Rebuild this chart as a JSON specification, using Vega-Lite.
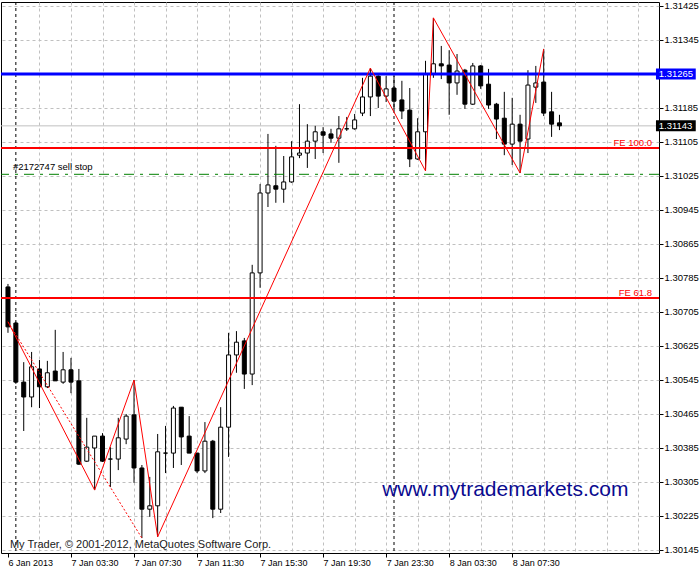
{
  "$schema": "https://vega.github.io/schema/vega-lite/v6.json",
  "width": 658,
  "height": 551,
  "autosize": {"type": "none"},
  "padding": {"left": 1, "top": 2, "right": 41, "bottom": 17},
  "background": "white",
  "config": {
    "view": {"stroke": "black", "strokeWidth": 1, "fill": "white"},
    "axis": {"labelFont": "Liberation Sans", "labelColor": "black", "tickColor": "black", "domain": false}
  },
  "resolve": {"axis": {"x": "independent", "y": "independent"}},
  "datasets": {
    "bars": [
      {"i":0,"o":1.30764,"h":1.30771,"l":1.30656,"c":1.30670},
      {"i":1,"o":1.30679,"h":1.30682,"l":1.30536,"c":1.30540},
      {"i":2,"o":1.30540,"h":1.30587,"l":1.30425,"c":1.30505},
      {"i":3,"o":1.30505,"h":1.30611,"l":1.30481,"c":1.30576},
      {"i":4,"o":1.30571,"h":1.30592,"l":1.30479,"c":1.30529},
      {"i":5,"o":1.30529,"h":1.30590,"l":1.30526,"c":1.30562},
      {"i":6,"o":1.30566,"h":1.30663,"l":1.30543,"c":1.30543},
      {"i":7,"o":1.30540,"h":1.30611,"l":1.30536,"c":1.30569},
      {"i":8,"o":1.30569,"h":1.30597,"l":1.30514,"c":1.30540},
      {"i":9,"o":1.30543,"h":1.30571,"l":1.30345,"c":1.30347},
      {"i":10,"o":1.30354,"h":1.30456,"l":1.30352,"c":1.30387},
      {"i":11,"o":1.30385,"h":1.30413,"l":1.30286,"c":1.30413},
      {"i":12,"o":1.30413,"h":1.30420,"l":1.30352,"c":1.30354},
      {"i":13,"o":1.30359,"h":1.30387,"l":1.30293,"c":1.30359},
      {"i":14,"o":1.30359,"h":1.30456,"l":1.30333,"c":1.30409},
      {"i":15,"o":1.30406,"h":1.30465,"l":1.30394,"c":1.30460},
      {"i":16,"o":1.30463,"h":1.30545,"l":1.30303,"c":1.30338},
      {"i":17,"o":1.30338,"h":1.30345,"l":1.30173,"c":1.30241},
      {"i":18,"o":1.30241,"h":1.30317,"l":1.30223,"c":1.30249},
      {"i":19,"o":1.30249,"h":1.30418,"l":1.30176,"c":1.30376},
      {"i":20,"o":1.30373,"h":1.30437,"l":1.30326,"c":1.30373},
      {"i":21,"o":1.30373,"h":1.30484,"l":1.30338,"c":1.30479},
      {"i":22,"o":1.30481,"h":1.30481,"l":1.30345,"c":1.30411},
      {"i":23,"o":1.30413,"h":1.30460,"l":1.30373,"c":1.30373},
      {"i":24,"o":1.30373,"h":1.30373,"l":1.30326,"c":1.30331},
      {"i":25,"o":1.30331,"h":1.30446,"l":1.30326,"c":1.30401},
      {"i":26,"o":1.30401,"h":1.30404,"l":1.30220,"c":1.30241},
      {"i":27,"o":1.30241,"h":1.30481,"l":1.30232,"c":1.30434},
      {"i":28,"o":1.30434,"h":1.30656,"l":1.30364,"c":1.30604},
      {"i":29,"o":1.30604,"h":1.30660,"l":1.30562,"c":1.30634},
      {"i":30,"o":1.30637,"h":1.30644,"l":1.30524,"c":1.30559},
      {"i":31,"o":1.30559,"h":1.30816,"l":1.30533,"c":1.30797},
      {"i":32,"o":1.30797,"h":1.31006,"l":1.30762,"c":1.30985},
      {"i":33,"o":1.30985,"h":1.31124,"l":1.30952,"c":1.31004},
      {"i":34,"o":1.31002,"h":1.31096,"l":1.30962,"c":1.30994},
      {"i":35,"o":1.30994,"h":1.31072,"l":1.30962,"c":1.31011},
      {"i":36,"o":1.31011,"h":1.31107,"l":1.31009,"c":1.31070},
      {"i":37,"o":1.31074,"h":1.31194,"l":1.31067,"c":1.31079},
      {"i":38,"o":1.31079,"h":1.31147,"l":1.31044,"c":1.31107},
      {"i":39,"o":1.31107,"h":1.31143,"l":1.31065,"c":1.31129},
      {"i":40,"o":1.31129,"h":1.31140,"l":1.31079,"c":1.31121},
      {"i":41,"o":1.31124,"h":1.31136,"l":1.31103,"c":1.31114},
      {"i":42,"o":1.31114,"h":1.31166,"l":1.31056,"c":1.31136},
      {"i":43,"o":1.31136,"h":1.31164,"l":1.31131,"c":1.31136},
      {"i":44,"o":1.31136,"h":1.31171,"l":1.31134,"c":1.31157},
      {"i":45,"o":1.31173,"h":1.31256,"l":1.31166,"c":1.31211},
      {"i":46,"o":1.31211,"h":1.31279,"l":1.31166,"c":1.31260},
      {"i":47,"o":1.31260,"h":1.31262,"l":1.31185,"c":1.31213},
      {"i":48,"o":1.31213,"h":1.31260,"l":1.31199,"c":1.31230},
      {"i":49,"o":1.31232,"h":1.31260,"l":1.31180,"c":1.31201},
      {"i":50,"o":1.31204,"h":1.31249,"l":1.31159,"c":1.31178},
      {"i":51,"o":1.31180,"h":1.31232,"l":1.31046,"c":1.31065},
      {"i":52,"o":1.31065,"h":1.31161,"l":1.31063,"c":1.31129},
      {"i":53,"o":1.31129,"h":1.31296,"l":1.31037,"c":1.31265},
      {"i":54,"o":1.31265,"h":1.31397,"l":1.31256,"c":1.31289},
      {"i":55,"o":1.31289,"h":1.31331,"l":1.31253,"c":1.31284},
      {"i":56,"o":1.31286,"h":1.31321,"l":1.31169,"c":1.31244},
      {"i":57,"o":1.31244,"h":1.31312,"l":1.31216,"c":1.31272},
      {"i":58,"o":1.31274,"h":1.31277,"l":1.31183,"c":1.31194},
      {"i":59,"o":1.31194,"h":1.31291,"l":1.31192,"c":1.31284},
      {"i":60,"o":1.31284,"h":1.31286,"l":1.31230,"c":1.31237},
      {"i":61,"o":1.31241,"h":1.31277,"l":1.31183,"c":1.31192},
      {"i":62,"o":1.31194,"h":1.31197,"l":1.31112,"c":1.31159},
      {"i":63,"o":1.31161,"h":1.31223,"l":1.31074,"c":1.31100},
      {"i":64,"o":1.31100,"h":1.31209,"l":1.31051,"c":1.31147},
      {"i":65,"o":1.31147,"h":1.31169,"l":1.31032,"c":1.31107},
      {"i":66,"o":1.31112,"h":1.31274,"l":1.31079,"c":1.31239},
      {"i":67,"o":1.31234,"h":1.31284,"l":1.31197,"c":1.31244},
      {"i":68,"o":1.31246,"h":1.31324,"l":1.31166,"c":1.31173},
      {"i":69,"o":1.31176,"h":1.31223,"l":1.31117,"c":1.31147},
      {"i":70,"o":1.31150,"h":1.31169,"l":1.31133,"c":1.31143}
    ],
    "zigzag": [
      {"i":0,"p":1.30682},{"i":11,"p":1.30286},{"i":16,"p":1.30545},{"i":19,"p":1.30176},
      {"i":46,"p":1.31279},{"i":53,"p":1.31037},{"i":54,"p":1.31397},{"i":65,"p":1.31032},{"i":68,"p":1.31324}
    ],
    "dotted": [{"i":0,"p":1.30682},{"i":17,"p":1.30173}]
  },
  "layer": [
    {
      "data": {"values": [{"i": 1}, {"i": 49}]},
      "mark": {"type": "rule", "color": "black", "strokeWidth": 1, "strokeDash": [3, 3]},
      "encoding": {
        "x": {"field": "i", "type": "quantitative", "scale": {"domain": [-0.25, 82], "nice": false, "zero": false},
          "axis": {"orient": "top", "values": [4,8,12,16,20,24,28,32,36,40,44,48,52,56,60,64,68,72,76,80], "grid": true, "gridColor": "#c0c0c0", "gridDash": [3, 3], "gridWidth": 1, "labels": false, "ticks": false, "domain": false, "title": null}}
      }
    },
    {
      "data": {"values": [{"p": 1.31143}]},
      "mark": {"type": "rule", "color": "#c0c0c0", "strokeWidth": 1},
      "encoding": {
        "y": {"field": "p", "type": "quantitative", "scale": {"domain": [1.3013794, 1.3143441], "nice": false, "zero": false},
          "axis": {"orient": "right", "values": [1.30145,1.30225,1.30305,1.30385,1.30465,1.30545,1.30625,1.30705,1.30785,1.30865,1.30945,1.31025,1.31105,1.31185,1.31265,1.31345,1.31425], "labelExpr": "abs(datum.value - 1.31265) < 0.000001 ? '' : format(datum.value, '.5f')", "grid": true, "gridColor": "#c0c0c0", "gridDash": [3, 3], "gridWidth": 1, "tickSize": 4, "labelPadding": 1, "labelFontSize": 9.5, "labelBaseline": "middle", "domain": false, "title": null}}
      }
    },
    {
      "data": {"name": "bars"},
      "mark": {"type": "rule", "color": "black", "strokeWidth": 1},
      "encoding": {
        "x": {"field": "i", "type": "quantitative",
          "axis": {"orient": "bottom", "values": [0,8,16,24,32,40,48,56,64], "labelExpr": "['6 Jan 2013','7 Jan 03:30','7 Jan 07:30','7 Jan 11:30','7 Jan 15:30','7 Jan 19:30','7 Jan 23:30','8 Jan 03:30','8 Jan 07:30'][round(datum.value/8)]", "labelAlign": "left", "labelFontSize": 9, "labelPadding": 1, "tickSize": 4, "grid": false, "domain": false, "title": null}},
        "y": {"field": "l", "type": "quantitative", "axis": null},
        "y2": {"field": "h"}
      }
    },
    {
      "data": {"name": "bars"},
      "mark": {"type": "bar", "size": 4, "stroke": "black", "strokeWidth": 1},
      "encoding": {
        "x": {"field": "i", "type": "quantitative", "axis": null},
        "y": {"field": "o", "type": "quantitative", "axis": null},
        "y2": {"field": "c"},
        "fill": {"condition": {"test": "datum.c >= datum.o", "value": "white"}, "value": "black"}
      }
    },
    {
      "data": {"values": [{"p": 1.31265}]},
      "mark": {"type": "rule", "color": "#0000ff", "strokeWidth": 3},
      "encoding": {"y": {"field": "p", "type": "quantitative", "axis": null}}
    },
    {
      "data": {"values": [{"p": 1.31091}, {"p": 1.30738}]},
      "mark": {"type": "rule", "color": "#ff0000", "strokeWidth": 2},
      "encoding": {"y": {"field": "p", "type": "quantitative", "axis": null}}
    },
    {
      "data": {"values": [{"p": 1.31029}]},
      "mark": {"type": "rule", "color": "#008000", "strokeWidth": 1, "strokeDash": [10, 6, 3, 6]},
      "encoding": {"y": {"field": "p", "type": "quantitative", "axis": null}}
    },
    {
      "data": {"name": "zigzag"},
      "mark": {"type": "line", "color": "#ff0000", "strokeWidth": 1},
      "encoding": {
        "x": {"field": "i", "type": "quantitative", "axis": null},
        "y": {"field": "p", "type": "quantitative", "axis": null}
      }
    },
    {
      "data": {"name": "dotted"},
      "mark": {"type": "line", "color": "#ff0000", "strokeWidth": 1, "strokeDash": [2, 2]},
      "encoding": {
        "x": {"field": "i", "type": "quantitative", "axis": null},
        "y": {"field": "p", "type": "quantitative", "axis": null}
      }
    },
    {
      "data": {"values": [{"i": 81.75, "p": 1.31103, "t": "FE 100.0"}, {"i": 81.75, "p": 1.30750, "t": "FE 61.8"}]},
      "mark": {"type": "text", "color": "#ff0000", "font": "Liberation Sans", "fontSize": 9.5, "align": "right", "baseline": "middle"},
      "encoding": {
        "x": {"field": "i", "type": "quantitative", "axis": null},
        "y": {"field": "p", "type": "quantitative", "axis": null},
        "text": {"field": "t"}
      }
    },
    {
      "data": {"values": [{"i": 0.625, "p": 1.31046, "t": "#2172747 sell stop"}]},
      "mark": {"type": "text", "color": "#000000", "font": "Liberation Sans", "fontSize": 9.5, "align": "left", "baseline": "middle"},
      "encoding": {
        "x": {"field": "i", "type": "quantitative", "axis": null},
        "y": {"field": "p", "type": "quantitative", "axis": null},
        "text": {"field": "t"}
      }
    },
    {
      "data": {"values": [{"i": 0.25, "p": 1.30157, "t": "My Trader, © 2001-2012, MetaQuotes Software Corp."}]},
      "mark": {"type": "text", "color": "#202020", "font": "Liberation Sans", "fontSize": 11, "align": "left", "baseline": "middle"},
      "encoding": {
        "x": {"field": "i", "type": "quantitative", "axis": null},
        "y": {"field": "p", "type": "quantitative", "axis": null},
        "text": {"field": "t"}
      }
    },
    {
      "data": {"values": [{"i": 47.5, "p": 1.30286, "t": "www.mytrademarkets.com"}]},
      "mark": {"type": "text", "color": "#0a0a8f", "font": "Liberation Sans", "fontSize": 21, "align": "left", "baseline": "middle"},
      "encoding": {
        "x": {"field": "i", "type": "quantitative", "axis": null},
        "y": {"field": "p", "type": "quantitative", "axis": null},
        "text": {"field": "t"}
      }
    },
    {
      "data": {"values": [{"p": 1.31265, "k": "blue"}, {"p": 1.31143, "k": "black"}]},
      "mark": {"type": "rule", "strokeWidth": 11, "strokeCap": "butt"},
      "encoding": {
        "x": {"datum": 82.25, "type": "quantitative", "axis": null},
        "x2": {"datum": 87.3},
        "y": {"field": "p", "type": "quantitative", "axis": null},
        "color": {"field": "k", "type": "nominal", "scale": {"domain": ["blue", "black"], "range": ["#0000ff", "#000000"]}, "legend": null}
      }
    },
    {
      "data": {"values": [{"p": 1.31265}, {"p": 1.31143}]},
      "mark": {"type": "text", "color": "white", "font": "Liberation Sans", "fontSize": 9.5, "align": "left", "baseline": "middle"},
      "encoding": {
        "x": {"datum": 82.6, "type": "quantitative", "axis": null},
        "y": {"field": "p", "type": "quantitative", "axis": null},
        "text": {"field": "p", "type": "quantitative", "format": ".5f"}
      }
    }
  ]
}
